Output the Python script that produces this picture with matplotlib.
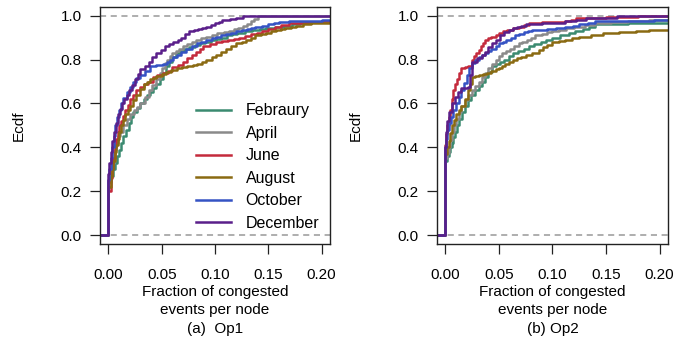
import matplotlib
matplotlib.use("Agg")
import matplotlib.pyplot as plt

plt.rcParams['font.family'] = ['Liberation Sans', 'DejaVu Sans']

months = ["Febraury", "April", "June", "August", "October", "December"]
colors = ["#3b8a70", "#8a8a8a", "#c42a3c", "#8a6a12", "#3553c4", "#5a1f8a"]
x_ticks = [0.0, 0.05, 0.10, 0.15, 0.20]
y_ticks = [0.0, 0.2, 0.4, 0.6, 0.8, 1.0]

# ecdf knots (fraction, ecdf), Op1
op1_feb = [(0, .24), (.002, .27), (.004, .30), (.0065, .33), (.008, .36), (.010, .39), (.012, .42), (.014, .45),
           (.0165, .48), (.019, .51), (.0215, .54), (.0235, .56), (.027, .58), (.030, .60), (.033, .62),
           (.036, .64), (.039, .65), (.042, .67), (.045, .69), (.048, .71), (.051, .74), (.054, .77),
           (.057, .79), (.060, .81), (.063, .83), (.067, .84), (.071, .85), (.076, .855), (.081, .865),
           (.086, .875), (.091, .88), (.096, .89), (.101, .895), (.106, .90), (.111, .91), (.116, .915),
           (.121, .92), (.128, .93), (.135, .935), (.142, .94), (.148, .945), (.156, .95), (.164, .955),
           (.172, .962), (.180, .966), (.190, .97), (.200, .975)]
op1_apr = [(0, .25), (.002, .30), (.003, .33), (.005, .39), (.007, .42), (.009, .45), (.011, .47), (.014, .50),
           (.017, .53), (.020, .55), (.024, .57), (.027, .585), (.030, .60), (.034, .63), (.038, .66),
           (.041, .685), (.045, .71), (.048, .74), (.050, .76), (.053, .785), (.055, .80), (.058, .815),
           (.060, .83), (.063, .84), (.066, .85), (.070, .86), (.074, .87), (.078, .88), (.082, .89),
           (.087, .897), (.092, .905), (.097, .912), (.102, .92), (.108, .925), (.113, .93), (.118, .94),
           (.122, .945), (.126, .952), (.130, .96), (.134, .975), (.137, .985), (.140, 1.0)]
op1_jun = [(0, .20), (.002, .26), (.003, .30), (.0045, .35), (.006, .40), (.0075, .44), (.0087, .47),
           (.010, .50), (.012, .52), (.014, .545), (.016, .57), (.018, .595), (.020, .62), (.023, .64),
           (.026, .66), (.030, .675), (.033, .69), (.037, .70), (.042, .72), (.046, .73), (.051, .74),
           (.056, .75), (.060, .765), (.065, .775), (.070, .79), (.074, .805), (.078, .82), (.082, .835),
           (.086, .85), (.089, .86), (.095, .87), (.101, .88), (.107, .885), (.112, .89), (.118, .895),
           (.123, .90), (.128, .908), (.134, .915), (.139, .922), (.144, .93), (.150, .94), (.156, .95),
           (.162, .958), (.169, .965), (.177, .968), (.185, .97), (.200, .975)]
op1_aug = [(0, .22), (.002, .27), (.003, .30), (.0045, .34), (.006, .38), (.0075, .41), (.0087, .44),
           (.010, .47), (.012, .50), (.014, .525), (.016, .55), (.018, .57), (.020, .59), (.023, .615),
           (.026, .64), (.030, .665), (.033, .69), (.036, .70), (.039, .71), (.042, .718), (.045, .725),
           (.050, .735), (.054, .745), (.059, .752), (.064, .76), (.069, .765), (.074, .77), (.079, .775),
           (.083, .78), (.088, .79), (.092, .80), (.097, .81), (.101, .82), (.106, .835), (.110, .85),
           (.115, .862), (.120, .875), (.125, .882), (.129, .89), (.134, .90), (.138, .91), (.143, .915),
           (.148, .92), (.153, .928), (.157, .935), (.162, .94), (.166, .945), (.171, .95), (.176, .955),
           (.183, .96), (.190, .965), (.200, .968)]
op1_oct = [(0, .25), (.001, .30), (.002, .35), (.0035, .40), (.005, .45), (.0065, .50), (.008, .54),
           (.010, .57), (.012, .60), (.014, .625), (.017, .65), (.020, .675), (.023, .70), (.026, .715),
           (.030, .73), (.034, .75), (.039, .77), (.045, .775), (.051, .78), (.055, .79), (.058, .80),
           (.061, .81), (.064, .82), (.068, .835), (.073, .85), (.078, .862), (.083, .875), (.087, .882),
           (.092, .89), (.097, .898), (.101, .905), (.106, .91), (.110, .915), (.115, .922), (.120, .93),
           (.125, .935), (.130, .94), (.134, .945), (.138, .95), (.144, .955), (.150, .96), (.155, .965),
           (.160, .97), (.169, .975), (.185, .978), (.200, .98)]
op1_dec = [(0, .28), (.001, .33), (.002, .38), (.0035, .43), (.005, .47), (.007, .51), (.009, .55),
           (.011, .575), (.0127, .60), (.015, .62), (.017, .64), (.019, .66), (.022, .685), (.025, .71),
           (.028, .735), (.030, .755), (.034, .77), (.038, .79), (.041, .81), (.045, .83), (.049, .845),
           (.053, .86), (.057, .87), (.061, .88), (.065, .89), (.068, .90), (.072, .915), (.076, .93),
           (.080, .935), (.084, .94), (.088, .945), (.092, .95), (.096, .958), (.100, .965), (.104, .972),
           (.107, .98), (.114, .985), (.120, .99), (.126, 1.0)]

# Op2
op2_feb = [(0, .34), (.0015, .36), (.003, .38), (.0045, .40), (.006, .42), (.0075, .445), (.009, .47),
           (.011, .50), (.013, .53), (.0155, .56), (.018, .59), (.021, .615), (.024, .64), (.0275, .66),
           (.031, .68), (.034, .70), (.037, .72), (.040, .745), (.0435, .77), (.047, .78), (.051, .79),
           (.055, .80), (.059, .815), (.0635, .828), (.068, .84), (.073, .85), (.078, .86), (.083, .87),
           (.089, .88), (.094, .89), (.100, .90), (.107, .91), (.115, .92), (.121, .93), (.128, .94),
           (.134, .95), (.140, .96), (.170, .965), (.195, .967)]
op2_apr = [(0, .35), (.0015, .375), (.003, .40), (.0045, .435), (.006, .47), (.008, .50), (.010, .53),
           (.0125, .56), (.015, .59), (.018, .615), (.021, .64), (.0245, .66), (.028, .68), (.031, .70),
           (.034, .72), (.037, .74), (.040, .76), (.0435, .78), (.047, .80), (.050, .815), (.053, .83),
           (.0565, .84), (.060, .85), (.064, .862), (.0685, .875), (.072, .882), (.076, .89), (.080, .90),
           (.084, .91), (.090, .918), (.095, .925), (.100, .93), (.106, .936), (.113, .943), (.120, .95),
           (.130, .958), (.140, .967), (.155, .97), (.170, .975), (.190, .98)]
op2_jun = [(0, .41), (.001, .46), (.002, .50), (.003, .54), (.0044, .57), (.006, .62), (.0075, .66),
           (.009, .69), (.0106, .71), (.013, .74), (.015, .76), (.018, .765), (.0216, .77), (.025, .80),
           (.027, .815), (.029, .83), (.031, .845), (.033, .86), (.035, .875), (.037, .89), (.040, .898),
           (.043, .905), (.047, .912), (.050, .92), (.054, .928), (.058, .935), (.063, .942), (.0685, .95),
           (.073, .958), (.078, .967), (.090, .97), (.100, .972), (.112, .974), (.117, .982), (.122, .99),
           (.150, .995), (.180, 1.0)]
op2_aug = [(0, .37), (.0015, .40), (.003, .43), (.0045, .465), (.006, .50), (.008, .525), (.010, .55),
           (.0125, .57), (.015, .59), (.018, .62), (.0216, .66), (.023, .69), (.025, .72), (.028, .725),
           (.031, .73), (.035, .735), (.039, .74), (.043, .748), (.047, .755), (.050, .762), (.053, .77),
           (.056, .78), (.059, .79), (.063, .798), (.067, .805), (.071, .812), (.075, .82), (.081, .832),
           (.087, .845), (.091, .855), (.095, .865), (.100, .88), (.106, .885), (.112, .89), (.118, .898),
           (.125, .905), (.136, .912), (.147, .92), (.162, .925), (.178, .93), (.190, .933), (.200, .936)]
op2_oct = [(0, .40), (.001, .44), (.002, .48), (.0035, .51), (.005, .54), (.0075, .57), (.010, .60),
           (.0125, .63), (.015, .66), (.0175, .695), (.020, .73), (.0225, .76), (.025, .785), (.028, .80),
           (.031, .81), (.034, .82), (.037, .83), (.040, .84), (.043, .85), (.047, .862), (.050, .875),
           (.054, .882), (.057, .89), (.061, .90), (.065, .91), (.069, .918), (.073, .925), (.077, .93),
           (.081, .936), (.095, .94), (.103, .945), (.112, .95), (.119, .955), (.125, .96), (.133, .967),
           (.140, .974), (.178, .976), (.195, .98)]
op2_dec = [(0, .40), (.001, .47), (.002, .52), (.003, .56), (.006, .60), (.009, .63), (.012, .65),
           (.015, .67), (.018, .672), (.021, .675), (.023, .73), (.025, .79), (.030, .805), (.034, .82),
           (.037, .835), (.040, .855), (.0435, .875), (.047, .89), (.051, .91), (.055, .925), (.059, .936),
           (.063, .943), (.067, .95), (.071, .955), (.075, .96), (.090, .965), (.112, .974), (.122, .982),
           (.131, .99), (.160, 1.0)]

op1 = [op1_feb, op1_apr, op1_jun, op1_aug, op1_oct, op1_dec]
op2 = [op2_feb, op2_apr, op2_jun, op2_aug, op2_oct, op2_dec]

fig = plt.figure(figsize=(6.75, 3.45), dpi=100)
ax1 = fig.add_axes([0.148, 0.293, 0.341, 0.687])
ax2 = fig.add_axes([0.647, 0.293, 0.343, 0.687])


def draw_panel(ax, curves, title):
    ax.axhline(0, color="#999999", ls=(0, (4, 3)), lw=1.1, zorder=1)
    ax.axhline(1, color="#999999", ls=(0, (4, 3)), lw=1.1, zorder=1)
    for pts, c, m in zip(curves, colors, months):
        xs = [p[0] for p in pts]
        ys = [p[1] for p in pts]
        # flat at 0 left of zero, then the jump; carry last value past the edge
        x = [-0.02] + xs + [0.3]
        y = [0.0] + ys + [ys[-1]]
        ax.step(x, y, where="post", color=c, lw=1.8, label=m, zorder=2)
    ax.set_xlim(-0.008, 0.208)
    ax.set_ylim(-0.04, 1.04)
    ax.set_xticks(x_ticks)
    ax.set_xticklabels(["%.2f" % v for v in x_ticks])
    ax.set_yticks(y_ticks)
    ax.set_yticklabels(["%.1f" % v for v in y_ticks])
    ax.tick_params(direction="out", length=7, width=0.9, labelsize=11, color="#222222")
    ax.tick_params(axis="x", pad=10.5)
    ax.tick_params(axis="y", pad=6)
    for s in ax.spines.values():
        s.set_linewidth(1.0)
        s.set_color("#222222")
    ax.set_ylabel("Ecdf", fontsize=11, labelpad=25)
    ax.set_xlabel("Fraction of congested\nevents per node\n" + title, fontsize=11,
                  linespacing=1.4, labelpad=2)


draw_panel(ax1, op1, "(a)  Op1")
draw_panel(ax2, op2, "(b) Op2")

ax1.legend(loc="lower right", frameon=False, fontsize=11.5, handlelength=2.2,
           handletextpad=0.9, labelspacing=0.47, bbox_to_anchor=(1.015, -0.005))

fig.savefig("out.png", dpi=100)
